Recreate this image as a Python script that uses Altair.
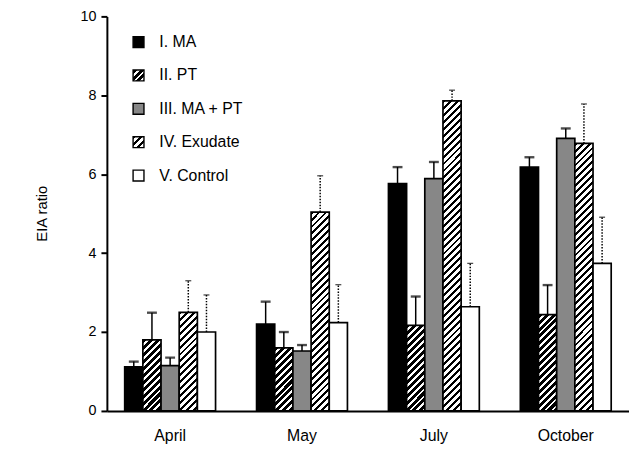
import altair as alt
import pandas as pd

months = ["April", "May", "July", "October"]
series = ["I. MA", "II. PT", "III. MA + PT", "IV. Exudate", "V. Control"]

ma = [1.12, 2.20, 5.76, 6.18]
ma_hi = [1.25, 2.77, 6.18, 6.43]
pt = [1.80, 1.60, 2.17, 2.44]
pt_hi = [2.49, 2.00, 2.90, 3.19]
mapt = [1.15, 1.52, 5.89, 6.91]
mapt_hi = [1.35, 1.67, 6.31, 7.16]
exu = [2.50, 5.04, 7.86, 6.78]
exu_hi = [3.30, 5.96, 8.13, 7.78]
ctrl = [2.00, 2.24, 2.64, 3.74]
ctrl_hi = [2.94, 3.20, 3.74, 4.91]

values = [ma, pt, mapt, exu, ctrl]
highs = [ma_hi, pt_hi, mapt_hi, exu_hi, ctrl_hi]

# ---- style helpers ----
PLOT_W, PLOT_H = 528, 399
PX_PER_UNIT = PLOT_H / 10.0
BAR_W = 18.4
PERIOD = 7.0


def stripes(w, h, dark_frac):
    """Diagonal '/' stripe fill as a linear gradient in bounding-box units."""
    r = h / w
    denom = w * (1 + r * r)
    smax = w + h
    stops = []
    k = 0
    while k * PERIOD < smax:
        s0 = k * PERIOD
        s1 = s0 + dark_frac * PERIOD
        s2 = s0 + PERIOD
        for s, c in ((s0, "black"), (s1, "black"), (s1, "white"), (s2, "white")):
            stops.append({"offset": min(1.0, s / denom), "color": c})
        k += 1
    return {"gradient": "linear", "x1": 0, "y1": 0, "x2": 1, "y2": r, "stops": stops}


def fill_for(sname, w, h):
    if sname == "I. MA":
        return "black"
    if sname == "II. PT":
        return stripes(w, h, 0.58)
    if sname == "III. MA + PT":
        return "#878787"
    if sname == "IV. Exudate":
        return stripes(w, h, 0.42)
    return "white"


rows = []
for si, sname in enumerate(series):
    for mi, m in enumerate(months):
        v = values[si][mi]
        rows.append({
            "month": m,
            "series": sname,
            "value": v,
            "hi": highs[si][mi],
            "dash": "dotted" if si >= 3 else "solid",
            "fill": fill_for(sname, BAR_W, v * PX_PER_UNIT),
        })
df = pd.DataFrame(rows)

leg = pd.DataFrame({
    "label": series,
    "fill": [fill_for(s, 11, 11) for s in series],
})

FONT = "Liberation Sans"

x_enc = alt.X("month:N", sort=months,
              scale=alt.Scale(paddingInner=0.311, paddingOuter=0.135),
              axis=alt.Axis(title=None, labelAngle=0, ticks=False, labelPadding=17,
                            labelFontSize=16, domainWidth=2))
xo_enc = alt.XOffset("series:N", sort=series,
                     scale=alt.Scale(paddingInner=0, paddingOuter=0))
y_enc = alt.Y("value:Q", scale=alt.Scale(domain=[0, 10], nice=False),
              axis=alt.Axis(title="EIA ratio", values=[0, 2, 4, 6, 8, 10],
                            tickSize=6, tickWidth=2, labelPadding=5,
                            labelFontSize=14.5, domainWidth=2,
                            titleFontSize=15, titleFontWeight="normal",
                            titleX=-66, titleY=199, titleAngle=270,
                            titleAlign="center", titleBaseline="middle"))

base = alt.Chart(df)

bars = base.mark_bar(stroke="black", strokeWidth=1.7).encode(
    x=x_enc, xOffset=xo_enc, y=y_enc,
    fill=alt.Fill("fill:N", scale=None),
)

errs = base.mark_rule(color="black", strokeWidth=1.5).encode(
    x=alt.X("month:N", sort=months), xOffset=alt.XOffset("series:N", sort=series),
    y="value:Q", y2="hi:Q",
    strokeDash=alt.StrokeDash("dash:N", scale=alt.Scale(domain=["solid", "dotted"],
                                                         range=[[1, 0], [1.5, 1.5]]),
                              legend=None),
)

caps_solid = base.transform_filter(alt.datum.dash == "solid").mark_tick(
    color="black", thickness=2.4, size=10).encode(
    x=alt.X("month:N", sort=months), xOffset=alt.XOffset("series:N", sort=series),
    y="hi:Q",
)
caps_dot = base.transform_filter(alt.datum.dash == "dotted").mark_tick(
    color="black", thickness=1.3, size=6).encode(
    x=alt.X("month:N", sort=months), xOffset=alt.XOffset("series:N", sort=series),
    y="hi:Q",
)

main = alt.layer(bars, errs, caps_solid, caps_dot)

leg_y = alt.Y("label:N", sort=series, axis=None,
              scale=alt.Scale(range=[26, 161], padding=0))
leg_sq = alt.Chart(leg).mark_square(size=121, stroke="black", strokeWidth=1.4,
                                    opacity=1, fillOpacity=1).encode(
    x=alt.value(32), y=leg_y, fill=alt.Fill("fill:N", scale=None),
)
leg_tx = alt.Chart(leg).mark_text(align="left", baseline="middle", fontSize=16,
                                  font=FONT, color="black").encode(
    x=alt.value(53), y=leg_y, text="label:N",
)
legend = alt.layer(leg_sq, leg_tx)

chart = alt.layer(main, legend).resolve_scale(
    y="independent"
).properties(
    width=PLOT_W, height=PLOT_H,
    autosize=alt.AutoSizeParams(type="none"),
    padding={"left": 100, "top": 6, "right": 0, "bottom": 36},
    background="white",
).configure_axis(
    labelFont=FONT, titleFont=FONT, labelColor="black", titleColor="black",
    domainColor="black", tickColor="black", grid=False,
).configure_view(stroke=None)

chart.save("out.html", embed_options={"renderer": "svg", "actions": False})
